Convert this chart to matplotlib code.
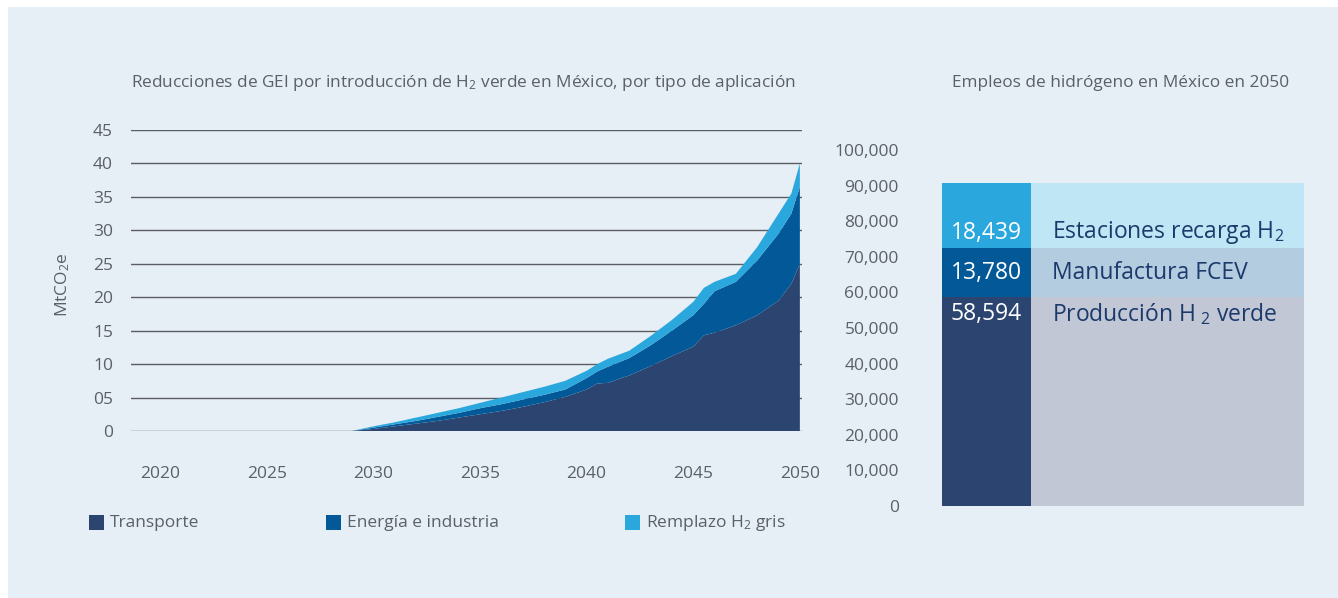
import numpy as np
import matplotlib
matplotlib.use("Agg")
import matplotlib.pyplot as plt
from matplotlib.patches import Rectangle
from matplotlib.ticker import FuncFormatter

plt.rcParams['font.family'] = ['Open Sans', 'DejaVu Sans']
plt.rcParams['mathtext.fontset'] = 'custom'
plt.rcParams['mathtext.rm'] = 'Open Sans'
plt.rcParams['mathtext.it'] = 'Open Sans'

# --- data: GHG reductions (MtCO2e), stacked by application ---
years = [2029, 2030, 2031, 2032, 2033, 2034, 2035, 2036, 2037, 2038, 2039, 2040,
         2040.5, 2041, 2042, 2043, 2044, 2045, 2045.5, 2046, 2047, 2048, 2049,
         2049.6, 2050]
transporte = [0, 0.3, 0.7, 1.1, 1.5, 2.0, 2.5, 3.0, 3.6, 4.3, 5.1, 6.2,
              7.1, 7.2, 8.3, 9.7, 11.2, 12.6, 14.3, 14.7, 15.8, 17.3, 19.5,
              22.0, 25.0]
top_energia = [0, 0.5, 1.0, 1.5, 2.1, 2.7, 3.4, 4.0, 4.7, 5.4, 6.2, 7.9,
               8.9, 9.6, 10.9, 12.8, 15.0, 17.3, 19.0, 20.9, 22.3, 25.5, 29.5,
               32.5, 36.5]
top_total = [0, 0.7, 1.3, 2.0, 2.7, 3.4, 4.2, 5.0, 5.8, 6.6, 7.5, 9.0,
             10.0, 10.8, 12.0, 14.2, 16.6, 19.3, 21.4, 22.3, 23.5, 27.5, 32.5,
             35.5, 40.0]
energia = list(np.array(top_energia) - np.array(transporte))
remplazo = list(np.array(top_total) - np.array(top_energia))

series_names = ['Transporte', 'Energía e industria', r'Remplazo H$_{2}$ gris']
series_colors = ['#2C4570', '#035897', '#2AA8DE']

x_ticks = [2020, 2025, 2030, 2035, 2040, 2045, 2050]
y_ticks = [0, 5, 10, 15, 20, 25, 30, 35, 40, 45]
y_labels = ['0', '05', '10', '15', '20', '25', '30', '35', '40', '45']

# --- data: hydrogen jobs in 2050 ---
empleo_cats = [r'Producción H$_{\ 2}$ verde', 'Manufactura FCEV', r'Estaciones recarga H$_2$']
empleo_vals = [58594, 13780, 18439]
empleo_colors = ['#2C4570', '#035897', '#2AA8DE']
empleo_light = ['#C1C7D5', '#B4CCE0', '#BEE6F4']
empleo_ticks = list(range(0, 100001, 10000))

W, H = 1338, 598
fig = plt.figure(figsize=(W / 100, H / 100), dpi=100)
fig.patch.set_facecolor('white')
fig.patches.append(Rectangle((8 / W, 0), 1, 1 - 7 / H, transform=fig.transFigure,
                             facecolor='#E6EEF6', edgecolor='none', zorder=-10))

grey = '#5B6068'

# left: stacked area
ax = fig.add_axes([131 / W, 1 - 431 / H, 671 / W, 301 / H])
ax.set_facecolor('none')
for y in y_ticks:
    ax.axhline(y, color='#5A5E63', lw=1.0, zorder=1)
ax.stackplot(years, transporte, energia, remplazo, colors=series_colors, lw=0, zorder=2)
ax.set_xlim(2018.64, 2050.1)
ax.set_ylim(0, 45)
ax.set_xticks(x_ticks)
ax.set_yticks(y_ticks)
ax.set_yticklabels(y_labels)
ax.tick_params(axis='x', length=0, pad=25, labelsize=12.5, labelcolor=grey)
ax.tick_params(axis='y', length=0, pad=13, labelsize=12.5, labelcolor=grey)
for s in ax.spines.values():
    s.set_visible(False)
ax.set_ylabel(r'MtCO$_2$e', fontsize=12.5, color=grey)
ax.yaxis.set_label_coords(-0.088, 0.485)

fig.text(131 / W, 1 - 83 / H,
         r'Reducciones de GEI por introducción de H$_2$ verde en México, por tipo de aplicación',
         fontsize=12.4, color=grey, va='center', ha='left')

# legend
leg_x = [89, 326, 625]
for lx, name, c in zip(leg_x, series_names, series_colors):
    fig.patches.append(Rectangle((lx / W, 1 - 530 / H), 15 / W, 15 / H,
                                 transform=fig.transFigure, facecolor=c, edgecolor='none'))
    fig.text((lx + 21) / W, 1 - 523 / H, name, fontsize=12.5, color=grey,
             va='center', ha='left')

# right: stacked bar
bx = fig.add_axes([942 / W, 1 - 506 / H, 362 / W, 356 / H])
bx.set_facecolor('none')
bar_w = 89 / 362
label_pos = [0.92, 0.5, 0.24]  # fraction of each segment where its labels sit
bottom = 0
for v, c, lc, cat, f in zip(empleo_vals, empleo_colors, empleo_light, empleo_cats, label_pos):
    bx.bar(0, v, width=bar_w, bottom=bottom, align='edge', color=c, lw=0)
    bx.bar(bar_w, v, width=1 - bar_w, bottom=bottom, align='edge', color=lc, lw=0)
    ly = bottom + f * v
    bx.text(bar_w / 2, ly, f'{v:,}', color='white', fontsize=16.5,
            ha='center', va='center')
    bx.text(bar_w + 0.058, ly, cat, color='#1B3A6B', fontsize=16.5,
            ha='left', va='center')
    bottom += v
bx.set_xlim(0, 1)
bx.set_ylim(0, 100000)
bx.set_yticks(empleo_ticks)
bx.yaxis.set_major_formatter(FuncFormatter(lambda v, p: f'{int(v):,}'))
bx.tick_params(axis='y', length=0, pad=31, labelsize=12.5, labelcolor=grey)
bx.set_xticks([])
for s in bx.spines.values():
    s.set_visible(False)

fig.text(952 / W, 1 - 83 / H, 'Empleos de hidrógeno en México en 2050',
         fontsize=12.4, color=grey, va='center', ha='left')

fig.savefig('out.png', dpi=100)
